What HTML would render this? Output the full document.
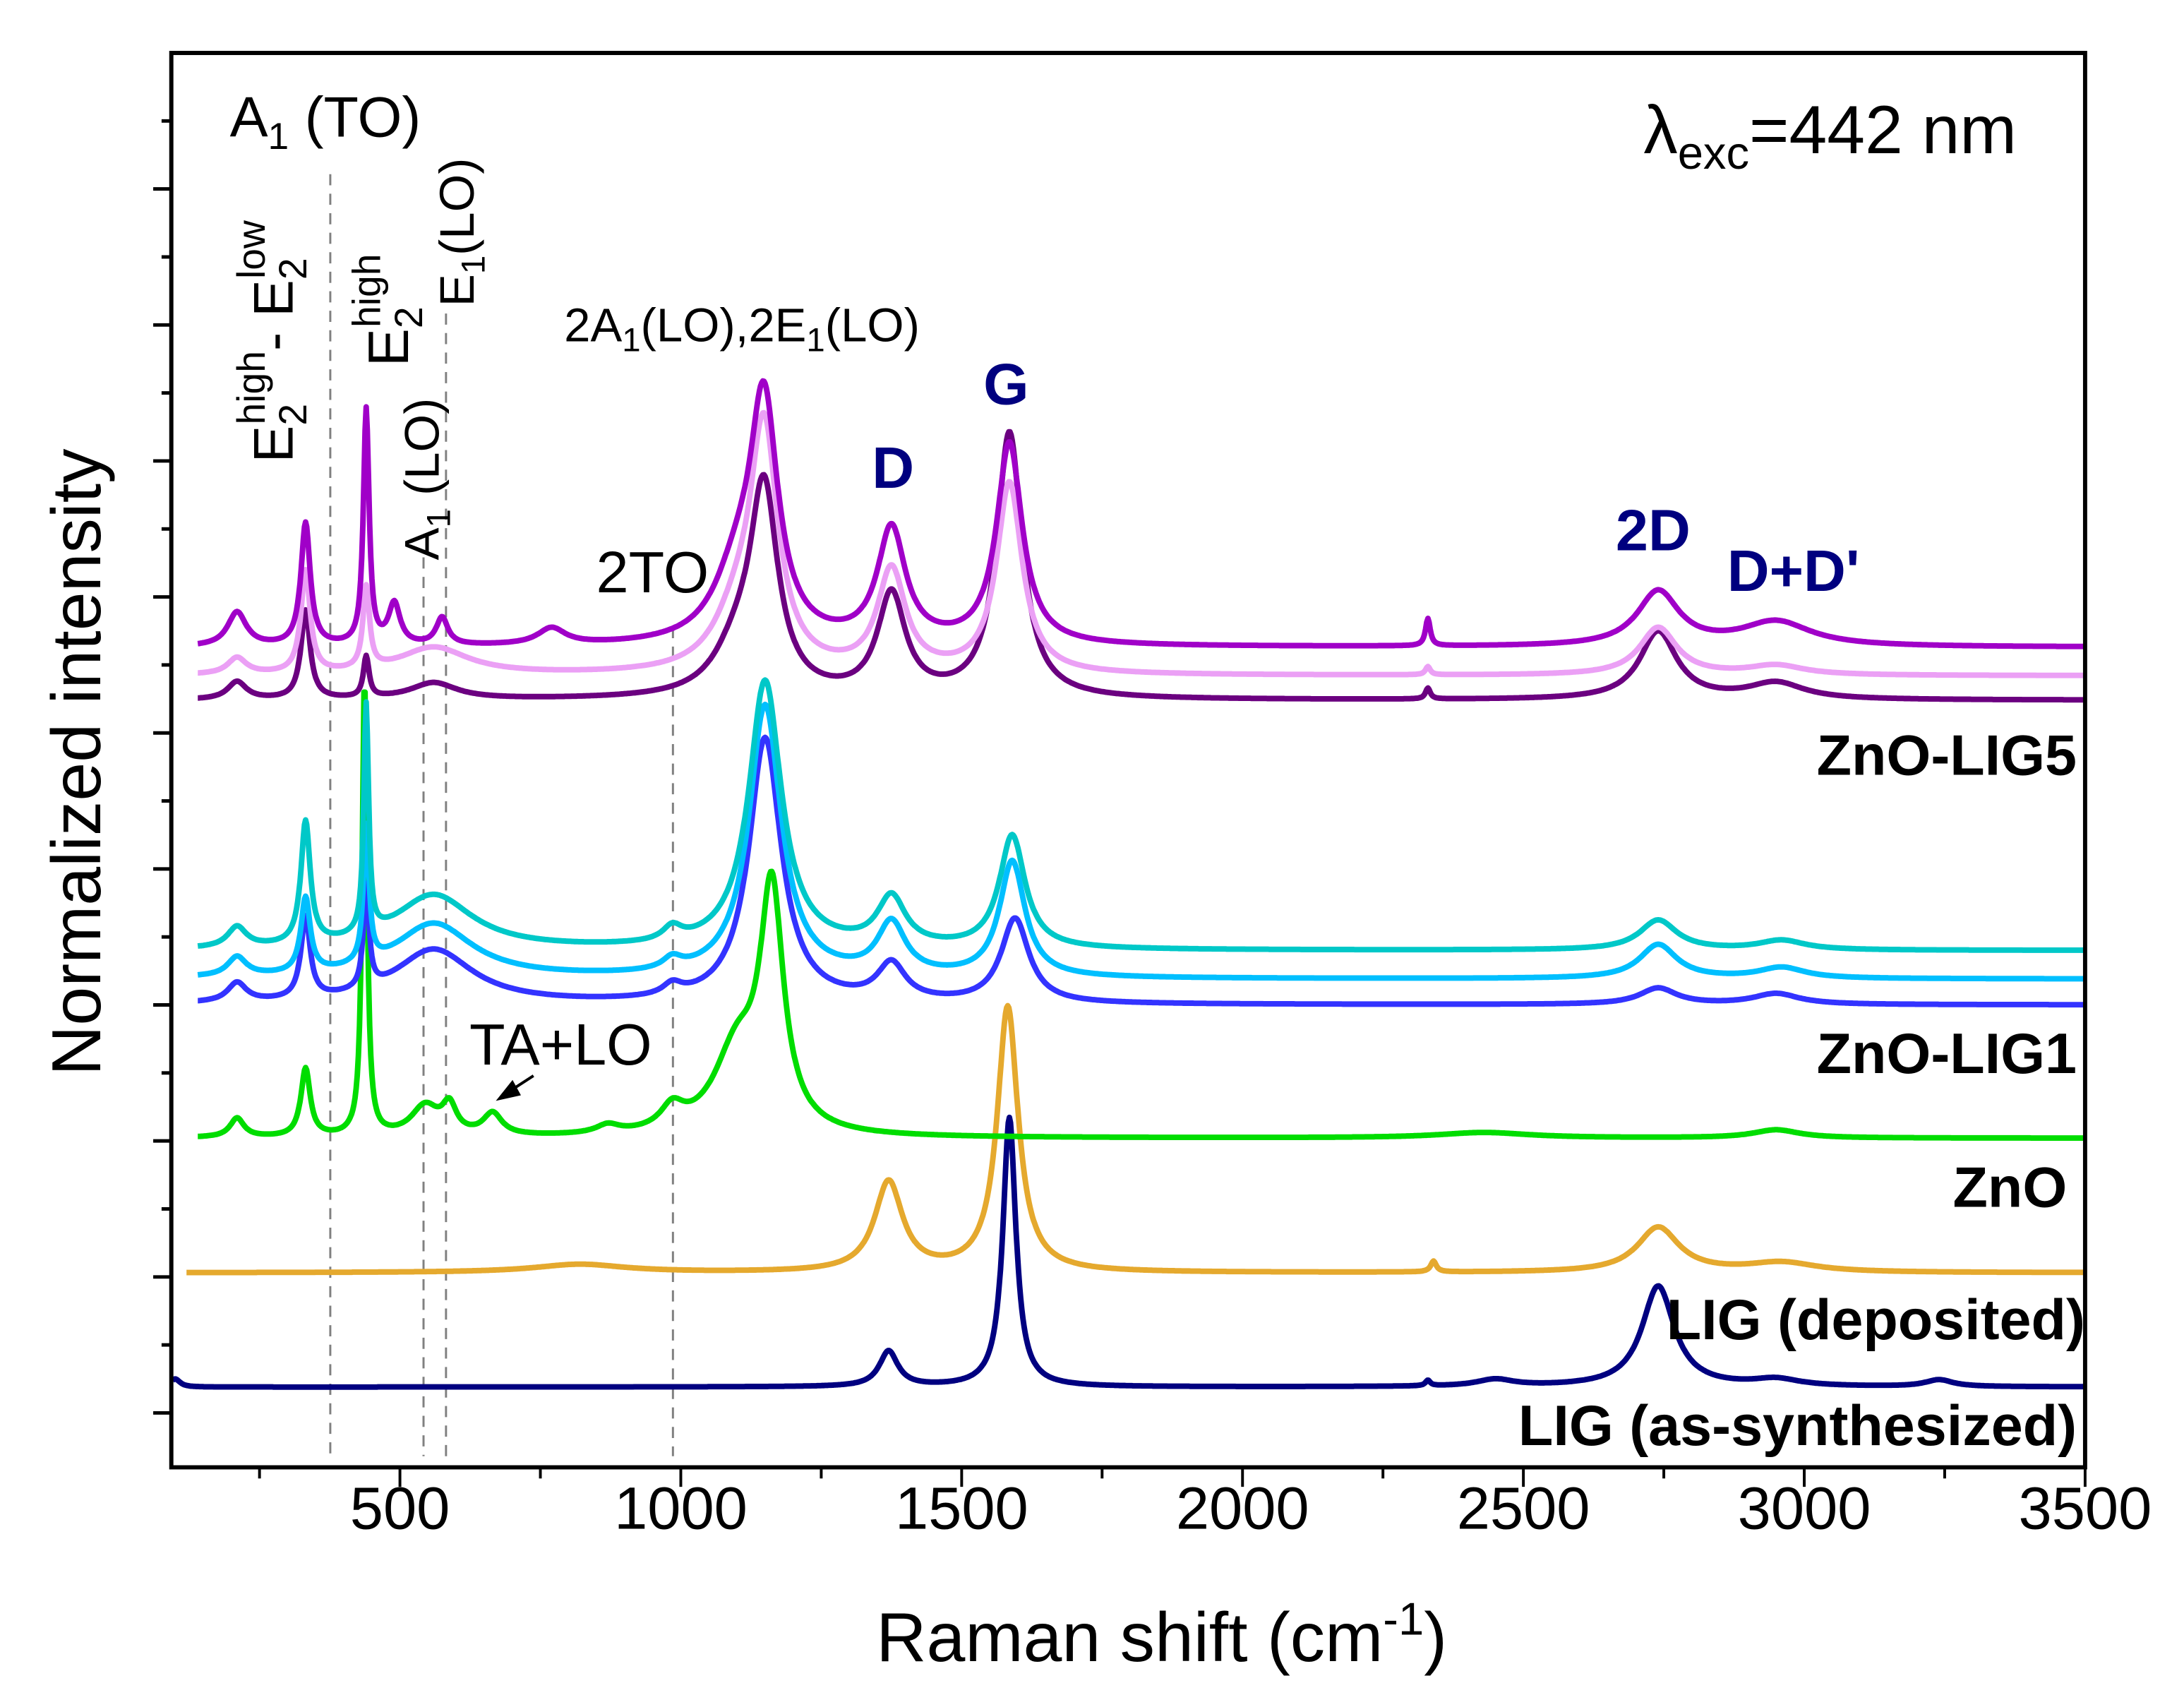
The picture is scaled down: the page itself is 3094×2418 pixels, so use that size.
<!DOCTYPE html>
<html><head><meta charset="utf-8"><style>
html,body{margin:0;padding:0;background:#fff}
svg{display:block}
text{font-family:"Liberation Sans",sans-serif}
</style></head><body>
<svg id="chart" width="3094" height="2418" viewBox="0 0 1568 1225" preserveAspectRatio="none" xmlns="http://www.w3.org/2000/svg">
<rect x="0" y="0" width="1568" height="1225" fill="#fff"/>
<g id="dashes"></g>
<g id="series"></g>
<g id="axes"></g>
<g font-size="32">
  <text x="165" y="98" font-size="41">A<tspan font-size="27" dy="9">1</tspan><tspan dy="-9"> (TO)</tspan></text>
  <text x="1180" y="110" font-size="49">λ<tspan font-size="33" dy="11">exc</tspan><tspan dy="-11">=442 nm</tspan></text>
  <text transform="translate(210,332) rotate(-90)" font-size="40">E<tspan font-size="28" dy="10">2</tspan><tspan font-size="28" dy="-30" dx="-15">high</tspan><tspan dy="20">- E</tspan><tspan font-size="28" dy="10">2</tspan><tspan font-size="28" dy="-30" dx="-15">low</tspan></text>
  <text transform="translate(293,263) rotate(-90)" font-size="41">E<tspan font-size="28" dy="10">2</tspan><tspan font-size="28" dy="-30" dx="-15">high</tspan></text>
  <text transform="translate(340,220) rotate(-90)" font-size="35">E<tspan font-size="24" dy="8">1</tspan><tspan dy="-8">(LO)</tspan></text>
  <text transform="translate(315,402) rotate(-90)" font-size="35">A<tspan font-size="24" dy="8">1</tspan><tspan dy="-8"> (LO)</tspan></text>
  <text x="405" y="245" font-size="34">2A<tspan font-size="24" dy="7">1</tspan><tspan dy="-7">(LO),2E</tspan><tspan font-size="24" dy="7">1</tspan><tspan dy="-7">(LO)</tspan></text>
  <text x="428" y="425" font-size="42">2TO</text>
  <text x="337" y="764" font-size="42">TA+LO</text>
  <line x1="383" y1="772" x2="366" y2="783" stroke="#000" stroke-width="2"/>
  <polygon points="356,790 368,775 374,786" fill="#000"/>
  <g font-weight="bold" fill="#00007F" font-size="42">
    <text x="626" y="350">D</text>
    <text x="706" y="290">G</text>
    <text x="1160" y="395">2D</text>
    <text x="1240" y="424">D+D'</text>
  </g>
  <g font-weight="bold" font-size="41" text-anchor="end">
    <text x="1491" y="556">ZnO-LIG5</text>
    <text x="1491" y="770">ZnO-LIG1</text>
    <text x="1484" y="866">ZnO</text>
    <text x="1497" y="961">LIG (deposited)</text>
    <text x="1491" y="1037">LIG (as-synthesized)</text>
  </g>
  <text transform="translate(72,547) rotate(-90)" text-anchor="middle" font-size="50">Normalized intensity</text>
  <text x="834" y="1192" text-anchor="middle" font-size="50">Raman shift (cm<tspan font-size="33" dy="-19">-1</tspan><tspan dy="19">)</tspan></text>
</g>
</svg>
<script>
const xTicks = [500,1000,1500,2000,2500,3000,3500];
const guideModes = [376,542,582,986];
const guideTops = [125,400,225,450];
const seriesNames = ["lig-as-synthesized","lig-deposited","zno","zno-lig1-a","zno-lig1-b","zno-lig1-c","zno-lig5-a","zno-lig5-b","zno-lig5-c"];
const seriesColors = ["#000080","#E5A92E","#00DD00","#3333FF","#00BFFF","#00C8C8","#6B0080","#EBA0F5","#A000C8"];
const seriesStart = [95,120,140,140,140,140,140,140,140];
const seriesBase = [0.19,1.03,2.02,3.0,3.19,3.4,5.24,5.42,5.63];
// peaks: [center cm-1, height, fwhm]
const peaksLIGas = [[100,0.06,20],[1370,0.26,40],[1585,1.98,28],[2330,0.04,10],[2450,0.05,80],[2740,0.74,70],[2950,0.05,100],[3240,0.05,60]];
const peaksLIGdep = [[820,0.06,200],[1370,0.66,60],[1582,1.95,45],[2340,0.08,12],[2740,0.33,90],[2960,0.07,150]];
const peaksZnO = [[210,0.14,30],[332,0.5,20],[437,3.38,10],[545,0.22,60],[588,0.2,30],[665,0.16,40],[870,0.06,50],[985,0.16,50],[1100,0.6,100],[1162,1.72,50],[2430,0.04,200],[2950,0.06,100]];
const peaksL1a = [[210,0.14,40],[332,0.6,20],[440,0.75,12],[560,0.4,170],[985,0.08,40],[1150,1.95,70],[1375,0.27,60],[1595,0.62,60],[2740,0.12,80],[2950,0.08,100]];
const peaksL1b = [[210,0.14,40],[332,0.55,20],[440,1.0,12],[560,0.4,170],[985,0.08,40],[1150,2.0,70],[1375,0.38,60],[1590,0.85,55],[2740,0.25,80],[2960,0.08,100]];
const peaksL1c = [[210,0.15,40],[332,0.9,20],[440,1.68,10],[560,0.4,170],[985,0.1,40],[1150,1.97,70],[1375,0.36,60],[1590,0.83,55],[2740,0.22,80],[2960,0.07,100]];
const peaksL5a = [[210,0.13,40],[332,0.65,20],[440,0.3,12],[560,0.12,100],[1100,0.3,100],[1148,1.48,60],[1375,0.75,60],[1585,1.95,55],[2330,0.08,10],[2740,0.5,80],[2950,0.12,120]];
const peaksL5b = [[210,0.12,40],[332,0.75,20],[440,0.6,14],[560,0.2,150],[1100,0.35,100],[1148,1.73,60],[1375,0.75,60],[1585,1.4,55],[2330,0.06,10],[2740,0.35,80],[2950,0.07,120]];
const peaksL5c = [[210,0.25,40],[332,0.9,20],[440,1.73,12],[490,0.3,25],[575,0.2,25],[770,0.12,60],[1100,0.45,100],[1148,1.7,60],[1375,0.84,60],[1585,1.48,55],[2330,0.2,10],[2740,0.4,90],[2950,0.18,150]];
const seriesPeaks = [peaksLIGas,peaksLIGdep,peaksZnO,peaksL1a,peaksL1b,peaksL1c,peaksL5a,peaksL5b,peaksL5c];

const XMIN=93, XMAX=3500, YMIN=-0.4, YMAX=10;
const PL=123, PR=1497, PT=38, PB=1053;
function xs(v){return PL+(v-XMIN)/(XMAX-XMIN)*(PR-PL);}
function ys(v){return PB-(v-YMIN)/(YMAX-YMIN)*(PB-PT);}
const NS="http://www.w3.org/2000/svg";
function mk(tag,attrs,parent){const e=document.createElementNS(NS,tag);for(const k in attrs)e.setAttribute(k,attrs[k]);parent.appendChild(e);return e;}

const gd=document.getElementById('dashes');
guideModes.forEach((m,i)=>{
  const l=mk('line',{x1:xs(m),x2:xs(m),y1:guideTops[i],y2:1045,stroke:'#808080','stroke-width':1.5,'stroke-dasharray':'8,6'},gd);
  
  
});

const sg=document.getElementById('series');
seriesNames.forEach((name,i)=>{
  const pk=seriesPeaks[i];
  let d='';
  for(let x=seriesStart[i];x<=XMAX;x+=2){
    let v=seriesBase[i];
    for(const p of pk){const h=p[2]/2;const t=(x-p[0])/h;v+=p[1]/(1+t*t);}
    d+=(d?'L':'M')+xs(x).toFixed(1)+','+ys(v).toFixed(1);
  }
  const path=mk('path',{d:d,fill:'none',stroke:seriesColors[i],'stroke-width':4,'stroke-linejoin':'round'},sg);
  
  
});

const ax=document.getElementById('axes');
const frame=mk('rect',{x:PL,y:PT,width:PR-PL,height:PB-PT,fill:'none',stroke:'#000','stroke-width':3},ax);


for(let k=0;k<=20;k++){
  const v=k/2; const y=ys(v); if(y<PT+2)continue;
  const t=mk('line',{x1:PL,x2:PL-(k%2===0?13:7),y1:y,y2:y,stroke:'#000','stroke-width':2.5},ax);
  
  
}
for(let v=250;v<=3500;v+=250){
  const x=xs(v); const major=(v%500===0);
  const t=mk('line',{x1:x,x2:x,y1:PB,y2:PB+(major?14:8),stroke:'#000','stroke-width':2},ax);
  
  
}
xTicks.forEach(v=>{
  const t=mk('text',{x:xs(v),y:1097,'text-anchor':'middle','font-size':43},ax);
  t.textContent=v;
  
  
});
</script>
</body></html>
